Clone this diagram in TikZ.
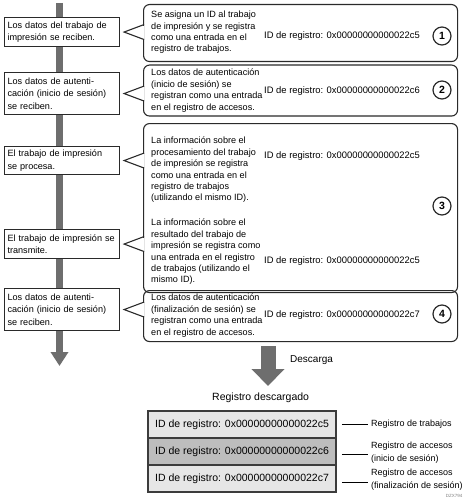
\documentclass[tikz,border=0pt]{standalone}
\usepackage{fontspec}
\setmainfont{Liberation Sans}
\usetikzlibrary{arrows.meta}
\definecolor{barc}{HTML}{6E6E6E}
\definecolor{linec}{HTML}{2A2A2A}
\definecolor{rowlight}{HTML}{E6E6E6}
\definecolor{rowdark}{HTML}{BDBDBD}
\definecolor{tabline}{HTML}{3C3C3C}
\newcommand\myptr[1]{%
  \fill[white] ([xshift=21.5pt]#1.east) ++(-2.5,-6.5) rectangle ++(5,13);
  \draw[cline] ([xshift=24pt]#1.east) ++(0,-7.5) -- ([xshift=4pt]#1.east) -- ++(20,7.5);}
\begin{document}
\begin{tikzpicture}[x=1pt,y=-1pt,
  txt/.style={font=\fontsize{9.1}{11.4}\selectfont, align=left, inner sep=0pt, anchor=west},
  idtxt/.style={font=\fontsize{9.4}{12}\selectfont, inner sep=0pt, anchor=west},
  lbox/.style={draw=linec, line width=1.1pt, fill=white, text width=109pt, inner xsep=3pt, inner ysep=0pt,
    align=left, anchor=north west, font=\fontsize{9.1}{12.5}\selectfont},
  cbox/.style={draw=linec, line width=1.1pt, rounded corners=6pt, minimum width=314pt, inner sep=0pt, anchor=north west},
  cline/.style={draw=linec, line width=1.1pt},
  num/.style={circle, draw=linec, line width=1.2pt, minimum size=18pt, inner sep=0pt, font=\fontsize{10.5}{12}\selectfont\bfseries},
  row/.style={draw=tabline, line width=1.5pt, minimum width=188pt, minimum height=27pt, inner sep=0pt, font=\fontsize{10.5}{12}\selectfont},
  lab/.style={font=\fontsize{9}{13}\selectfont, align=left, inner sep=0pt, anchor=north west},
  leader/.style={draw=black, line width=0.9pt}
]
\useasboundingbox (0,0) rectangle (468,500);

% timeline bar
\coordinate (bartop) at (59.5,3);
\coordinate (barend) at (59.5,366);
\draw[barc, line width=7pt, -{Triangle[width=17pt,length=14pt]}] (bartop) -- (barend);

% left boxes
\node[lbox, minimum height=29pt] (la) at (4,17) {Los datos del trabajo de\\impresión se reciben.};
\node[lbox, minimum height=42pt] (lb) at (4,72) {Los datos de autenti-\\cación (inicio de sesión)\\se reciben.};
\node[lbox, minimum height=28pt] (lc) at (4,146) {El trabajo de impresión\\se procesa.};
\node[lbox, minimum height=29pt] (ld) at (4,229) {El trabajo de impresión se\\transmite.};
\node[lbox, minimum height=42pt] (le) at (4,288) {Los datos de autenti-\\cación (inicio de sesión)\\se reciben.};

% callout bodies
\node[cbox, minimum height=57pt] (k1) at (143,4) {};
\node[cbox, minimum height=51pt] (k2) at (143,64.5) {};
\node[cbox, minimum height=169pt] (k3) at (143,123) {};
\node[cbox, minimum height=51pt] (k4) at (143,290) {};
\myptr{la}
\myptr{lb}
\myptr{lc}
\myptr{ld}
\myptr{le}

% callout texts
\node[txt] (t1) at (151,32.5) {Se asigna un ID al trabajo\\de impresión y se registra\\como una entrada en el\\registro de trabajos.};
\node[txt] (t2) at (151,90.5) {Los datos de autenticación\\(inicio de sesión) se\\registran como una entrada\\en el registro de accesos.};
\node[txt] (t3a) at (151,170) {La información sobre el\\procesamiento del trabajo\\de impresión se registra\\como una entrada en el\\registro de trabajos\\(utilizando el mismo ID).};
\node[txt] (t3b) at (151,252) {La información sobre el\\resultado del trabajo de\\impresión se registra como\\una entrada en el registro\\de trabajos (utilizando el\\mismo ID).};
\node[txt] (t4) at (151,315.5) {Los datos de autenticación\\(finalización de sesión) se\\registran como una entrada\\en el registro de accesos.};

% IDs
\node[idtxt] (i1) at (264,36) {ID de registro: 0x00000000000022c5};
\node[idtxt] (i2) at (264,91) {ID de registro: 0x00000000000022c6};
\node[idtxt] (i3a) at (264,156) {ID de registro: 0x00000000000022c5};
\node[idtxt] (i3b) at (264,261) {ID de registro: 0x00000000000022c5};
\node[idtxt] (i4) at (264,315) {ID de registro: 0x00000000000022c7};

% numbers
\node[num] (n1) at (442,36) {1};
\node[num] (n2) at (442,90) {2};
\node[num] (n3) at (442,206) {3};
\node[num] (n4) at (442,314) {4};

% download arrow
\coordinate (dltop) at (268,346);
\coordinate (dlend) at (268,386);
\draw[barc, line width=15pt, -{Triangle[width=32pt,length=17pt]}] (dltop) -- (dlend);
\node[font=\fontsize{10}{12}\selectfont, anchor=west, inner sep=0pt] (dl) at (290,360) {Descarga};

\node[font=\fontsize{10.5}{12}\selectfont, anchor=west, inner sep=0pt] (rd) at (212,398) {Registro descargado};

% table
\node[row, fill=rowlight] (r1) at (242,424.5) {ID de registro: 0x00000000000022c5};
\node[row, fill=rowdark] (r2) at (242,451.5) {ID de registro: 0x00000000000022c6};
\node[row, fill=rowlight] (r3) at (242,478.5) {ID de registro: 0x00000000000022c7};

\node[lab] (g1) at (371,419.5) {Registro de trabajos};
\node[lab] (g2) at (371,441.5) {Registro de accesos\\(inicio de sesión)};
\node[lab] (g3) at (371,468.5) {Registro de accesos\\(finalización de sesión)};
\draw[leader] ([xshift=5pt]r1.east) -- ([xshift=-3pt]r1.east -| g1.west);
\draw[leader] ([xshift=5pt,yshift=-3pt]r2.east) -- ([xshift=-3pt,yshift=-3pt]r2.east -| g2.west);
\draw[leader] ([xshift=5pt,yshift=-4pt]r3.east) -- ([xshift=-3pt,yshift=-4pt]r3.east -| g3.west);

\node[font=\fontsize{4.5}{5}\selectfont, text=gray, inner sep=0pt] (dz) at (454,496) {DZX794};
\end{tikzpicture}
\end{document}
